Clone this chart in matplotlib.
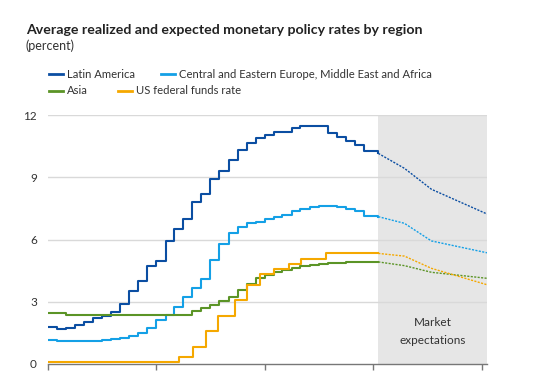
import matplotlib
matplotlib.use("Agg")
import matplotlib.pyplot as plt
from matplotlib.lines import Line2D
import pandas as pd

plt.rcParams['font.family'] = ['Lato', 'DejaVu Sans']

title = "Average realized and expected monetary policy rates by region"
subtitle = "(percent)"
series_names = ["Latin America", "Central and Eastern Europe, Middle East and Africa",
                "Asia", "US federal funds rate"]
colors = ["#0B4EA2", "#14A0E6", "#5B9426", "#F5A800"]

# realized (monthly averages, step series)
months = pd.date_range("2021-01-01", "2023-12-01", freq="MS")
realized_end = "2024-01-18"
latam = [1.77, 1.69, 1.72, 1.86, 2.01, 2.20, 2.30, 2.50, 2.90, 3.50, 4.00, 4.70,
         4.95, 5.95, 6.50, 7.00, 7.80, 8.20, 8.90, 9.30, 9.85, 10.30, 10.63, 10.88,
         11.04, 11.20, 11.20, 11.36, 11.49, 11.49, 11.49, 11.15, 10.95, 10.75, 10.55, 10.25]
ceemea = [1.15, 1.12, 1.12, 1.12, 1.12, 1.12, 1.15, 1.19, 1.25, 1.35, 1.50, 1.75,
          2.10, 2.35, 2.75, 3.25, 3.65, 4.10, 5.00, 5.80, 6.30, 6.60, 6.78, 6.85,
          7.00, 7.10, 7.20, 7.35, 7.45, 7.55, 7.60, 7.60, 7.55, 7.45, 7.35, 7.15]
asia = [2.44, 2.44, 2.38, 2.36, 2.36, 2.36, 2.36, 2.36, 2.36, 2.36, 2.36, 2.36,
        2.36, 2.36, 2.36, 2.36, 2.55, 2.70, 2.85, 3.05, 3.25, 3.57, 3.85, 4.15,
        4.30, 4.45, 4.55, 4.62, 4.70, 4.75, 4.80, 4.85, 4.88, 4.90, 4.92, 4.92]
last_realized = [10.15, 7.10, 4.92, 5.33]

# US federal funds rate: change dates
us_dates = ["2021-01-01", "2021-06-15", "2021-08-25", "2022-03-17", "2022-05-05",
            "2022-06-16", "2022-07-28", "2022-09-22", "2022-11-03", "2022-12-15",
            "2023-02-02", "2023-03-23", "2023-05-04", "2023-07-27"]
us_rate = [0.08, 0.10, 0.08, 0.33, 0.83, 1.58, 2.33, 3.08, 3.83, 4.33,
           4.58, 4.83, 5.08, 5.33]

# market expectations
fc_dates = ["2024-01-18", "2024-04-15", "2024-07-15", "2025-01-18"]
fc_latam = [10.15, 9.43, 8.42, 7.23]
fc_ceemea = [7.10, 6.78, 5.93, 5.36]
fc_asia = [4.92, 4.74, 4.42, 4.13]
fc_us = [5.33, 5.20, 4.61, 3.82]

yticks = [0, 3, 6, 9, 12]

fig = plt.figure(figsize=(5.38, 3.75), dpi=100)
ax = fig.add_axes([48/538, 11/375, 439/538, 249/375])

start = pd.Timestamp("2021-01-01")
end = pd.Timestamp("2025-01-18")
fstart = pd.Timestamp(realized_end)
ax.axvspan(fstart, end, color="#E6E6E6", zorder=0, lw=0)

for y in yticks[1:]:
    ax.axhline(y, color="#D9D9D9", lw=1, zorder=1)

mx = list(months) + [fstart]
for vals, last, c in zip([latam, ceemea, asia], last_realized[:3], colors[:3]):
    ax.plot(mx, list(vals) + [last], drawstyle="steps-post", color=c, lw=1.5, zorder=3)
ux = list(pd.to_datetime(us_dates)) + [fstart]
ax.plot(ux, us_rate + [last_realized[3]], drawstyle="steps-post", color=colors[3], lw=1.5, zorder=3)

fx = pd.to_datetime(fc_dates)
for vals, c in zip([fc_latam, fc_ceemea, fc_asia, fc_us], colors):
    ax.plot(fx, vals, color=c, lw=1.0, ls=(0, (1.5, 1.0)), zorder=3)

ax.set_xlim(start, end)
ax.set_ylim(0, 12)
ax.set_yticks(yticks)
ax.set_yticklabels([str(v) for v in yticks], fontsize=8.5, color="#333333")
ax.tick_params(axis="y", length=0, pad=8)
ax.set_xticks(pd.to_datetime(["2021-01-01", "2022-01-01", "2023-01-01", "2024-01-01", "2025-01-01"]))
ax.set_xticklabels([])
ax.tick_params(axis="x", length=4, color="#777777", width=1)
for s in ["top", "right", "left"]:
    ax.spines[s].set_visible(False)
ax.spines["bottom"].set_color("#777777")
ax.spines["bottom"].set_linewidth(1)

mid = fstart + (end - fstart) / 2
ax.text(mid, 1.55, "Market\nexpectations", ha="center", va="center",
        fontsize=8.5, color="#333333", linespacing=1.75)

fig.text(26/538, 1 - 30/375, title, fontsize=10.2, fontweight="bold", color="#222222", va="center")
fig.text(26/538, 1 - 46/375, subtitle, fontsize=9, color="#333333", va="center")

leg = [(49, 74, 0), (161, 74, 1), (49, 91, 2), (118, 91, 3)]
for x0, y0, i in leg:
    fig.add_artist(Line2D([x0/538, (x0+14)/538], [1 - y0/375, 1 - y0/375], color=colors[i], lw=2))
    fig.text((x0 + 18)/538, 1 - y0/375, series_names[i], fontsize=8.1, color="#333333", va="center")

fig.savefig("out.png", dpi=100)
